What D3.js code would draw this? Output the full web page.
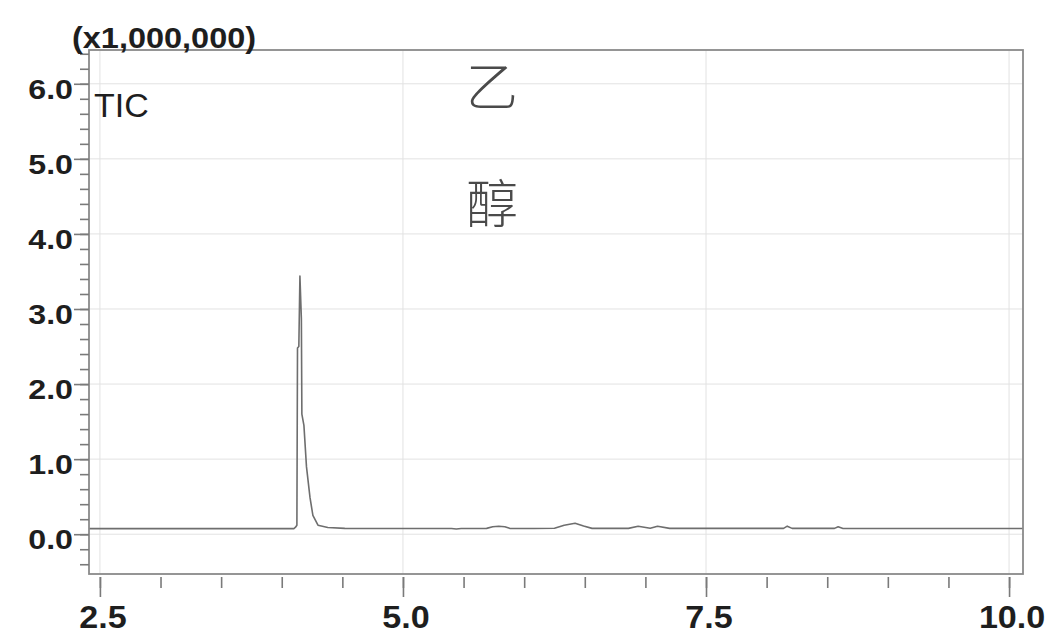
<!DOCTYPE html>
<html>
<head>
<meta charset="utf-8">
<script src="https://cdn.jsdelivr.net/npm/d3@7"></script>
<style>
  html, body { margin: 0; padding: 0; background: #fff; }
  svg { display: block; }
</style>
</head>
<body>
<svg id="chart" width="1046" height="638"></svg>
<script>
// Retention time (min) and TIC intensity (x1,000,000)
const retentionTime = [2.41, 4.10, 4.112, 4.125, 4.130, 4.141, 4.150, 4.162, 4.166, 4.183, 4.204, 4.233, 4.257, 4.299, 4.38, 4.52,
  5.40, 5.44, 5.48, 5.69, 5.74, 5.79, 5.84, 5.88, 6.08, 6.25, 6.33, 6.42, 6.49, 6.56,
  6.86, 6.94, 7.04, 7.10, 7.20, 8.14, 8.17, 8.21, 8.56, 8.59, 8.63, 10.115];
const intensity = [0.075, 0.075, 0.09, 0.12, 2.48, 2.50, 3.44, 2.87, 1.60, 1.45, 0.90, 0.49, 0.25, 0.12, 0.09, 0.078,
  0.076, 0.070, 0.076, 0.078, 0.100, 0.107, 0.100, 0.078, 0.076, 0.080, 0.120, 0.147, 0.110, 0.078,
  0.078, 0.107, 0.080, 0.107, 0.078, 0.078, 0.107, 0.078, 0.078, 0.100, 0.076, 0.076];

const xTickValues = [2.5, 5.0, 7.5, 10.0];
const xTickLabels = ["2.5", "5.0", "7.5", "10.0"];
const yTickValues = [0, 1, 2, 3, 4, 5, 6];
const yTickLabels = ["0.0", "1.0", "2.0", "3.0", "4.0", "5.0", "6.0"];
const xMinorTicks = d3.range(2.5, 10.01, 0.5);
const yMinorTicks = d3.range(-0.4, 6.41, 0.2);
const xDomain = [2.41, 10.115];
const yDomain = [-0.53, 6.45];
const scaleLabel = "(x1,000,000)";
const traceLabel = "TIC";
const compoundLabels = ["乙", "醇"];

const svg = d3.select("#chart");
const L = 89, R = 1023, T = 50, B = 574;

const x = d3.scaleLinear().domain(xDomain).range([L, R]);
const y = d3.scaleLinear().domain(yDomain).range([B, T]);

// grid
const grid = svg.append("g").attr("stroke", "#e2e2e2").attr("stroke-width", 1);
grid.selectAll(".gv").data(xTickValues).join("line")
  .attr("x1", d => x(d)).attr("x2", d => x(d)).attr("y1", T).attr("y2", B);
grid.selectAll(".gh").data(yTickValues).join("line")
  .attr("x1", L).attr("x2", R).attr("y1", d => y(d)).attr("y2", d => y(d));

// trace
const line = d3.line().x((d, i) => x(retentionTime[i])).y(d => y(d));
svg.append("path")
  .datum(intensity)
  .attr("d", line)
  .attr("fill", "none")
  .attr("stroke", "#6e6e6e")
  .attr("stroke-width", 1.6)
  .attr("stroke-linejoin", "round");

// frame
svg.append("rect")
  .attr("x", L).attr("y", T).attr("width", R - L).attr("height", B - T)
  .attr("fill", "none").attr("stroke", "#8a8a8a").attr("stroke-width", 1.8);

// Y axis ticks
const yAxisMinor = d3.axisLeft(y).tickValues(yMinorTicks).tickSize(9).tickFormat("");
const gyMinor = svg.append("g").attr("transform", `translate(${L},0)`).call(yAxisMinor);
const yAxisMajor = d3.axisLeft(y).tickValues(yTickValues).tickSize(15).tickFormat("");
const gyMajor = svg.append("g").attr("transform", `translate(${L},0)`).call(yAxisMajor);
[gyMinor, gyMajor].forEach(g => {
  g.select(".domain").remove();
  g.selectAll("line").attr("stroke", "#7a7a7a").attr("stroke-width", 1.6);
});

// X axis ticks
const xAxisMinor = d3.axisBottom(x).tickValues(xMinorTicks).tickSize(11).tickFormat("");
const gxMinor = svg.append("g").attr("transform", `translate(0,${B + 3})`).call(xAxisMinor);
const xAxisMajor = d3.axisBottom(x).tickValues(xTickValues).tickSize(20).tickFormat("");
const gxMajor = svg.append("g").attr("transform", `translate(0,${B + 3})`).call(xAxisMajor);
[gxMinor, gxMajor].forEach(g => {
  g.select(".domain").remove();
  g.selectAll("line").attr("stroke", "#7a7a7a").attr("stroke-width", 1.6);
});

const font = "'Liberation Sans', Arial, sans-serif";

// y labels
svg.append("g").selectAll("text").data(yTickValues).join("text")
  .attr("transform", d => `translate(73,${y(d) + 15}) scale(1.15,1)`)
  .attr("text-anchor", "end")
  .attr("font-family", font).attr("font-weight", "bold").attr("font-size", 28)
  .attr("fill", "#1e1e1e")
  .text((d, i) => yTickLabels[i]);

// x labels
svg.append("g").selectAll("text").data(xTickValues).join("text")
  .attr("transform", d => `translate(${x(d) + 3},628) scale(1.1,1)`)
  .attr("text-anchor", "middle")
  .attr("font-family", font).attr("font-weight", "bold").attr("font-size", 31)
  .attr("fill", "#1e1e1e")
  .text((d, i) => xTickLabels[i]);

// multiplier label
svg.append("text")
  .attr("transform", "translate(72,48) scale(1.12,1)")
  .attr("font-family", font).attr("font-weight", "bold").attr("font-size", 29)
  .attr("fill", "#1e1e1e")
  .text(scaleLabel);

// TIC
svg.append("text")
  .attr("x", 94).attr("y", 117)
  .attr("font-family", font).attr("font-size", 34)
  .attr("fill", "#1e1e1e")
  .text(traceLabel);

// compound label
svg.append("g").selectAll("text").data(compoundLabels).join("text")
  .attr("x", 492)
  .attr("y", (d, i) => i === 0 ? 83 : 200)
  .attr("text-anchor", "middle")
  .attr("dominant-baseline", "central")
  .attr("font-family", "'Noto Sans CJK SC', sans-serif")
  .attr("font-weight", 300)
  .attr("font-size", 52)
  .attr("fill", "#4a4a4a")
  .text(d => d);
</script>
</body>
</html>
